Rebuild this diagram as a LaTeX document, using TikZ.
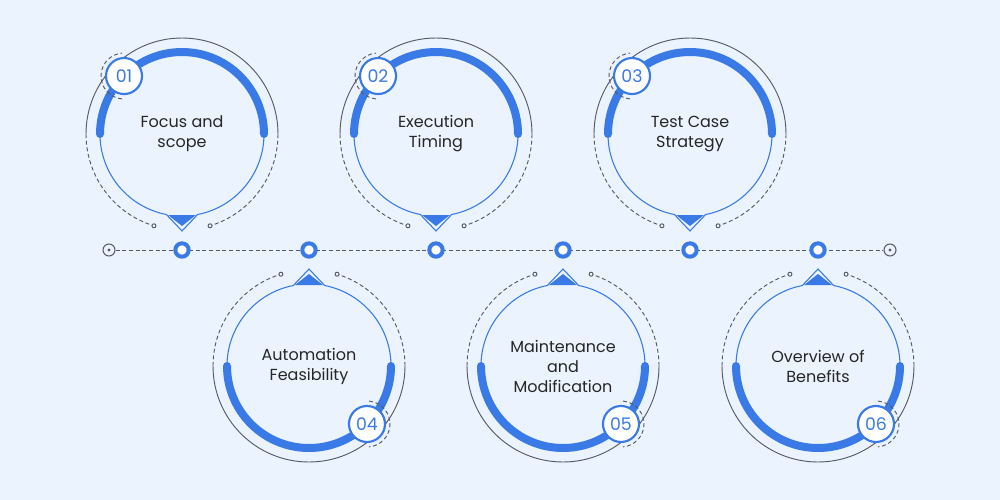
\documentclass[tikz,border=0pt]{standalone}
\usepackage{fontspec}
\setmainfont{Poppins}
\definecolor{bgblue}{HTML}{EAF3FE}
\definecolor{mainblue}{HTML}{3A7AE6}
\definecolor{linegray}{HTML}{555A66}
\tikzset{
  thickarc/.style={mainblue,line width=6pt,line cap=round},
  thinarc/.style={mainblue,line width=0.8pt},
  grayarc/.style={linegray,line width=0.7pt},
  grayDash/.style={linegray,line width=0.7pt,dash pattern=on 3pt off 2pt},
  endring/.style={circle,draw=linegray,fill=bgblue,line width=0.7pt,minimum size=3pt,inner sep=0pt},
  badge/.style={circle,draw=mainblue,fill=white,line width=1.6pt,minimum size=27pt,inner sep=0pt,font=\fontsize{13}{13}\selectfont,text=mainblue},
  steptext/.style={align=center,font=\fontsize{12}{15}\selectfont,text=black!85},
  dot/.style={circle,draw=mainblue,fill=white,line width=3pt,minimum size=10pt,inner sep=0pt},
  bigend/.style={circle,draw=linegray,fill=bgblue,line width=0.8pt,minimum size=9pt,inner sep=0pt},
}
\begin{document}
\begin{tikzpicture}[x=0.75pt,y=-0.75pt]
\fill[bgblue] (0,0) rectangle (1000,500);
\useasboundingbox (0,0) rectangle (1000,500);

% timeline
\node[bigend] (L) at (109,250) {};
\node[bigend] (R) at (890,250) {};
\node[circle,fill=linegray,minimum size=2.5pt,inner sep=0pt] at (L) {};
\node[circle,fill=linegray,minimum size=2.5pt,inner sep=0pt] at (R) {};
\draw[grayDash] (L) -- (R);
\foreach \x [count=\i] in {182,309,436,563,690,818}
  \node[dot] (d\i) at (\x,250) {};

% steps
\foreach \cx/\cy/\rot/\num/\txt [count=\i] in {
  182/134/0/01/{Focus and\\scope},
  436/134/0/02/{Execution\\Timing},
  690/134/0/03/{Test Case\\Strategy},
  309/366/180/04/{Automation\\Feasibility},
  563/366/180/05/{Maintenance\\and\\Modification},
  818/366/180/06/{Overview of\\Benefits}}
{
  \begin{scope}[shift={(\cx,\cy)},rotate=\rot]
    % outer gray ring
    \draw[grayarc] (180:96) arc[start angle=180,end angle=360,radius=96];
    \draw[grayDash] (0:96) arc[start angle=0,end angle=73,radius=96];
    \draw[grayDash] (180:96) arc[start angle=180,end angle=107,radius=96];
    \node[endring] at (73:96) {};
    \node[endring] at (107:96) {};
    % inner ring with pointer
    \draw[thinarc] (0:82) arc[start angle=0,end angle=79,radius=82] -- (0,97)
      -- (101:82) arc[start angle=101,end angle=180,radius=82];
    \fill[mainblue] (-14,81) -- (14,81) -- (0,92) -- cycle;
    \draw[thickarc] (180:82) arc[start angle=180,end angle=360,radius=82];
    % badge
    \draw[grayDash] (225:82) ++(95:23) arc[start angle=95,end angle=265,radius=23];
    \coordinate (p\i) at (225:82);
  \end{scope}
  \node[badge] (b\i) at (p\i) {\num};
  \node[steptext] (t\i) at (\cx,\cy) {\txt};
}
\end{tikzpicture}
\end{document}
